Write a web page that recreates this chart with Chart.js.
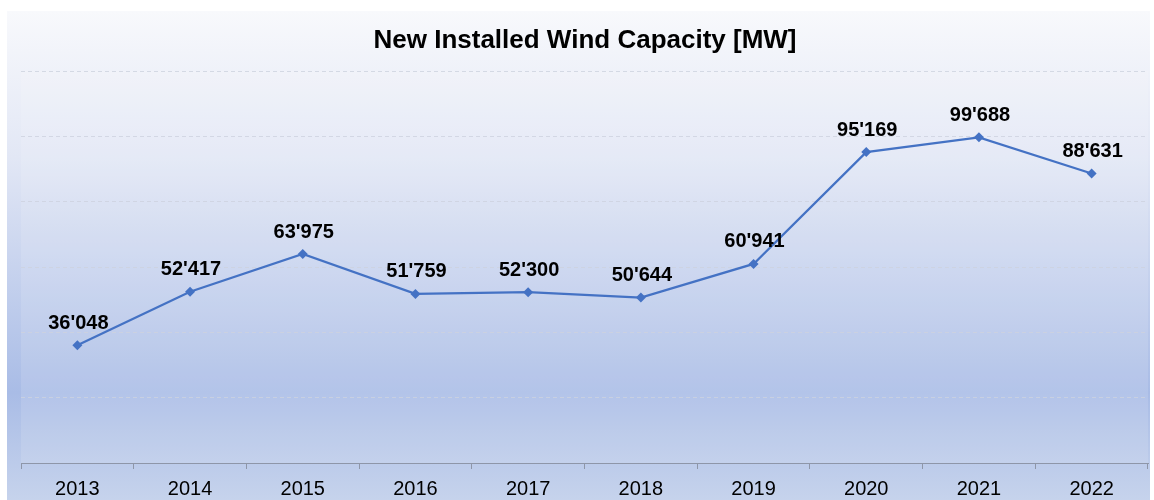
<!DOCTYPE html>
<html>
<head>
<meta charset="utf-8">
<script src="https://cdn.jsdelivr.net/npm/chart.js@4"></script>
<style>
  html, body { margin: 0; padding: 0; background: #ffffff; }
  #wrap { width: 1154px; height: 500px; }
</style>
</head>
<body>
<div id="wrap"><canvas id="chart" width="1154" height="500"></canvas></div>
<script>
// data
const years = ['2013', '2014', '2015', '2016', '2017', '2018', '2019', '2020', '2021', '2022'];
const capacity = [36048, 52417, 63975, 51759, 52300, 50644, 60941, 95169, 99688, 88631];
const yMin = 0;
const yMax = 120000;
const yStep = 20000;
const chartTitle = 'New Installed Wind Capacity [MW]';

const FONT = '"Liberation Sans", Arial, sans-serif';

function fmt(v) {
    return String(v).replace(/\B(?=(\d{3})+(?!\d))/g, "'");
}

// gradient panel + title
const panelBg = {
    id: 'panelBg',
    beforeDraw(chart) {
        const ctx = chart.ctx;
        const g = ctx.createLinearGradient(0, 11, 0, 500);
        g.addColorStop(0, '#f8f9fc');
        g.addColorStop(0.3, '#e2e7f5');
        g.addColorStop(0.78, '#a9bce6');
        g.addColorStop(1, '#c6d3ec');
        ctx.save();
        ctx.fillStyle = '#ffffff';
        ctx.fillRect(0, 0, chart.width, chart.height);
        ctx.fillStyle = g;
        ctx.fillRect(7, 11, 1143, 489);
        // plot area is a touch lighter than the frame
        const a = chart.chartArea;
        ctx.fillStyle = 'rgba(255,255,255,0.12)';
        ctx.fillRect(a.left, a.top, a.right - a.left, a.bottom - a.top);
        ctx.font = 'bold 26px ' + FONT;
        ctx.fillStyle = '#000000';
        ctx.textAlign = 'center';
        ctx.textBaseline = 'middle';
        ctx.fillText(chartTitle, 585, 41);
        ctx.restore();
    }
};

// value labels above the points
const valueLabels = {
    id: 'valueLabels',
    afterDatasetsDraw(chart) {
        const ctx = chart.ctx;
        const meta = chart.getDatasetMeta(0);
        ctx.save();
        ctx.font = 'bold 20px ' + FONT;
        ctx.fillStyle = '#000000';
        ctx.textAlign = 'center';
        ctx.textBaseline = 'middle';
        meta.data.forEach((pt, i) => {
            ctx.fillText(fmt(capacity[i]), pt.x + 1, pt.y - 22);
        });
        ctx.restore();
    }
};

new Chart(document.getElementById('chart'), {
    type: 'line',
    data: {
        labels: years,
        datasets: [{
            data: capacity,
            borderColor: '#4472c4',
            backgroundColor: '#4472c4',
            borderWidth: 2.25,
            pointStyle: 'rectRot',
            pointRadius: 5,
            pointBorderWidth: 0,
            tension: 0
        }]
    },
    options: {
        responsive: false,
        animation: false,
        layout: { padding: { left: 21, right: 6, top: 71, bottom: 0 } },
        plugins: {
            legend: { display: false },
            tooltip: { enabled: false },
            title: { display: false }
        },
        scales: {
            x: {
                offset: true,
                afterFit(scale) { scale.height = 37; },
                grid: {
                    offset: true,
                    drawOnChartArea: false,
                    tickLength: 6,
                    color: '#8e96a8'
                },
                border: { color: '#8e96a8', width: 1 },
                ticks: {
                    color: '#000000',
                    padding: 8,
                    font: { family: FONT, size: 20 }
                }
            },
            y: {
                min: yMin,
                max: yMax,
                grid: {
                    color: 'rgba(205,210,222,0.8)',
                    drawTicks: false
                },
                border: { display: false, dash: [4, 3] },
                ticks: { display: false, stepSize: yStep }
            }
        }
    },
    plugins: [panelBg, valueLabels]
});
</script>
</body>
</html>
